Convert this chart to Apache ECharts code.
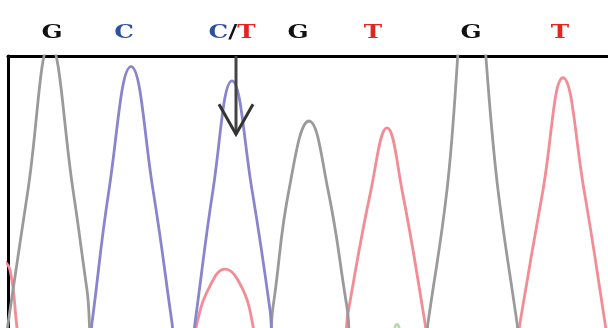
<!DOCTYPE html>
<html>
<head>
<meta charset="utf-8">
<script src="https://cdn.jsdelivr.net/npm/echarts@6/dist/echarts.min.js"></script>
<style>
  html, body { margin: 0; padding: 0; background: #fff; }
  #chart { width: 608px; height: 328px; }
</style>
</head>
<body>
<div id="chart"></div>
<script>
// * 测序峰图（chromatogram）
const chart = echarts.init(document.getElementById('chart'))

// ? 碱基读出及其扫描位置
const bases = ['G', 'C', 'C/T', 'G', 'T', 'G', 'T']
const basePos = [52, 124, 232, 298, 373, 471, 560]

// ? 杂合位点箭头（位置, 箭头尖端的信号值）
const sitePos = 236
const siteTip = 741

// ? 四个通道的峰形：[扫描位置, 信号强度]
const traceG = [[3, 0], [13, 226], [28, 557], [50, 1040], [73, 557], [87, 226], [97, 0],
  [264, 0], [273, 169], [289, 557], [309, 785], [328, 557], [347, 169], [356, 0],
  [423, 0], [428, 117], [447, 557], [471, 1350], [498, 557], [517, 117], [522, 0], [608, 0]]
const traceC = [[0, 0], [87, 0], [92, 117], [109, 557], [131, 965], [153, 557], [172, 117], [177, 0],
  [190, 0], [195, 117], [213, 557], [232, 918], [252, 557], [270, 160], [275, 0], [608, 0]]
const traceT = [[2, 330], [10, 292], [17, 100], [21, 0],
  [190, 0], [197, 117], [208, 226], [225, 295], [243, 226], [253, 107], [258, 0],
  [341, 0], [348, 150], [371, 557], [387, 762], [402, 557], [425, 117], [430, 0],
  [515, 0], [520, 117], [543, 557], [563, 928], [584, 557], [605, 117], [610, 0]]
const traceA = [[0, 0], [385, 0], [397, 112], [409, 0], [608, 0]]

// ? 颜色
const letterColor = { G: '#111111', C: '#2f4f9f', T: '#e52321', A: '#2f8f2f' }
const lineColor = { G: '#9a9a9a', C: '#8884ce', T: '#f48b95', A: '#b9dca2' }

const makeTrace = (name, data) => ({
  name: name,
  type: 'line',
  data: data,
  smooth: 0.45,
  symbol: 'none',
  lineStyle: { color: lineColor[name], width: 2.8 },
  z: 2
})

const option = {
  animation: false,
  grid: { left: 8, right: 0, top: 56, bottom: 0 },
  xAxis: {
    type: 'value',
    position: 'top',
    min: 8,
    max: 608,
    axisLine: { onZero: false, lineStyle: { color: '#000', width: 3 } },
    axisTick: { show: false },
    axisLabel: { show: false },
    splitLine: { show: false }
  },
  yAxis: {
    type: 'value',
    min: 100,
    max: 1000,
    axisLine: { show: true, onZero: false, lineStyle: { color: '#000', width: 3 } },
    axisTick: { show: false },
    axisLabel: { show: false },
    splitLine: { show: false }
  },
  series: [
    makeTrace('A', traceA),
    makeTrace('T', traceT),
    makeTrace('G', traceG),
    makeTrace('C', traceC)
  ]
}

chart.setOption(option)

// ? 碱基字母与箭头，位置由坐标轴换算
const font = { fontFamily: 'DejaVu Serif', fontWeight: 'bold', fontSize: 19 }
const rich = {
  G: Object.assign({ fill: letterColor.G }, font),
  C: Object.assign({ fill: letterColor.C }, font),
  T: Object.assign({ fill: letterColor.T }, font),
  A: Object.assign({ fill: letterColor.A }, font),
  s: Object.assign({ fill: '#111' }, font)
}

const letters = bases.map((b, i) => {
  const x = chart.convertToPixel({ xAxisIndex: 0 }, basePos[i])
  const text = b.split('/').map(p => '{' + p + '|' + p + '}').join('{s|/}')
  return {
    type: 'text',
    x: x,
    y: 33,
    scaleX: 1.3,
    z: 10,
    style: {
      text: text,
      rich: rich,
      align: 'center',
      verticalAlign: 'middle',
      textAlign: 'center',
      textVerticalAlign: 'middle'
    }
  }
})

const arrowTop = chart.convertToPixel({ gridIndex: 0 }, [sitePos, 1000])
const arrowTip = chart.convertToPixel({ gridIndex: 0 }, [sitePos, siteTip])

chart.setOption({
  graphic: letters.concat([
    {
      type: 'line',
      z: 10,
      shape: { x1: arrowTop[0], y1: arrowTop[1], x2: arrowTip[0], y2: arrowTip[1] },
      style: { stroke: '#444', lineWidth: 3 }
    },
    {
      type: 'polyline',
      z: 10,
      shape: { points: [[arrowTip[0] - 17, arrowTip[1] - 30], [arrowTip[0], arrowTip[1]], [arrowTip[0] + 17, arrowTip[1] - 30]] },
      style: { stroke: '#333', lineWidth: 3, fill: null }
    }
  ])
})
</script>
</body>
</html>
